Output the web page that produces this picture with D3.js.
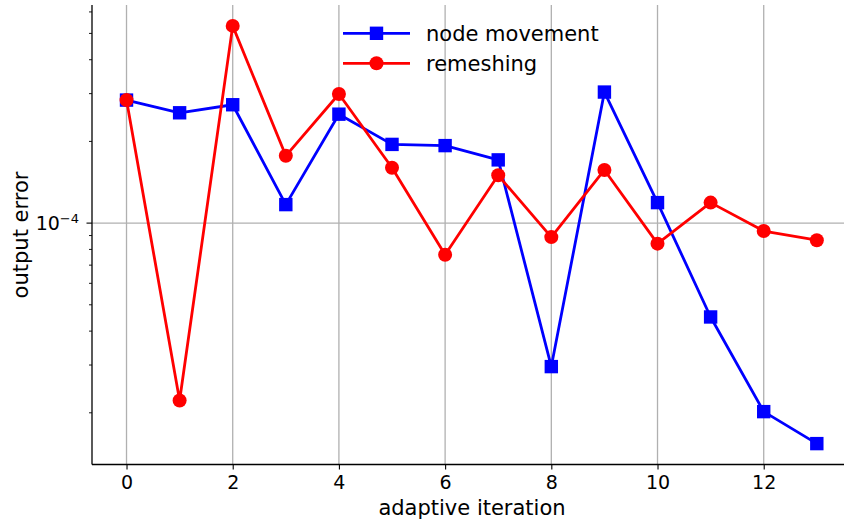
<!DOCTYPE html>
<html>
<head>
<meta charset="utf-8">
<script src="https://cdn.jsdelivr.net/npm/d3@7"></script>
<style>
	body { margin: 0; background: #fff; }
	text { font-family: "DejaVu Sans", sans-serif; fill: #000; }
</style>
</head>
<body>
<div id="chart"></div>
<script>

// adaptive iterations 0..13
var iterations = [0, 1, 2, 3, 4, 5, 6, 7, 8, 9, 10, 11, 12, 13];

var nodeMovement = [2.84e-4, 2.55e-4, 2.73e-4, 1.17e-4, 2.52e-4, 1.95e-4, 1.93e-4,
                    1.71e-4, 2.96e-5, 3.04e-4, 1.19e-4, 4.51e-5, 2.02e-5, 1.54e-5];

var remeshing    = [2.84e-4, 2.22e-5, 5.33e-4, 1.77e-4, 2.99e-4, 1.60e-4, 7.65e-5,
                    1.50e-4, 8.88e-5, 1.57e-4, 8.40e-5, 1.19e-4, 9.35e-5, 8.65e-5];

var xTicks      = [0, 2, 4, 6, 8, 10, 12];
var yMajorTicks = [1e-4];
var yMinorTicks = [2e-5, 3e-5, 4e-5, 5e-5, 6e-5, 7e-5, 8e-5, 9e-5,
                   2e-4, 3e-4, 4e-4, 5e-4, 6e-4];

var series = [
	{ name: "node movement", values: nodeMovement, color: "#0000ff", marker: "square" },
	{ name: "remeshing",     values: remeshing,    color: "#ff0000", marker: "circle" }
];

var width  = 844,
    height = 522;

var plotLeft = 92, plotTop = 5, plotBottom = 464.5;
var unit = 53.1;   // px per iteration

var svg = d3.select("#chart")
	.append("svg")
	.attr("width", width)
	.attr("height", height);

// matplotlib-like 5% margins
var x = d3.scaleLinear()
	.domain([-0.65, 13.65])
	.range([plotLeft, plotLeft + 14.3 * unit]);

var all = nodeMovement.concat(remeshing);
var lmin = Math.log10(d3.min(all)),
    lmax = Math.log10(d3.max(all)),
    pad  = (lmax - lmin) * 0.05;

var y = d3.scaleLog()
	.domain([Math.pow(10, lmin - pad), Math.pow(10, lmax + pad)])
	.range([plotBottom, plotTop]);

// grid
var grid = svg.append("g").attr("class", "grid");

grid.selectAll("line.gx")
	.data(xTicks)
	.enter().append("line")
	.attr("x1", function(d) { return x(d); })
	.attr("x2", function(d) { return x(d); })
	.attr("y1", plotTop)
	.attr("y2", plotBottom)
	.attr("stroke", "#b0b0b0")
	.attr("stroke-width", 1.3);

grid.selectAll("line.gy")
	.data(yMajorTicks)
	.enter().append("line")
	.attr("x1", plotLeft)
	.attr("x2", width)
	.attr("y1", function(d) { return y(d); })
	.attr("y2", function(d) { return y(d); })
	.attr("stroke", "#b0b0b0")
	.attr("stroke-width", 1.3);

// axes
var xAxis = d3.axisBottom(x)
	.tickValues(xTicks)
	.tickSize(5)
	.tickPadding(5.8)
	.tickFormat(d3.format("d"));

var gx = svg.append("g")
	.attr("transform", "translate(0," + plotBottom + ")")
	.call(xAxis)
	.attr("font-size", 19)
	.attr("font-family", "DejaVu Sans");

gx.select(".domain").attr("stroke-width", 1.3).attr("d", "M" + plotLeft + ",0H" + width);
gx.selectAll(".tick line").attr("stroke-width", 1.1);

var gy = svg.append("g")
	.attr("transform", "translate(" + plotLeft + ",0)");

gy.append("line")
	.attr("x1", 0).attr("x2", 0)
	.attr("y1", plotTop).attr("y2", plotBottom)
	.attr("stroke", "#000")
	.attr("stroke-width", 1.3);

gy.selectAll("line.minor")
	.data(yMinorTicks)
	.enter().append("line")
	.attr("x1", -3).attr("x2", 0)
	.attr("y1", function(d) { return y(d); })
	.attr("y2", function(d) { return y(d); })
	.attr("stroke", "#000")
	.attr("stroke-width", 0.9);

gy.selectAll("line.major")
	.data(yMajorTicks)
	.enter().append("line")
	.attr("x1", -5.5).attr("x2", 0)
	.attr("y1", function(d) { return y(d); })
	.attr("y2", function(d) { return y(d); })
	.attr("stroke", "#000")
	.attr("stroke-width", 1.1);

var ylab = gy.selectAll("text.major")
	.data(yMajorTicks)
	.enter().append("text")
	.attr("x", -13)
	.attr("y", function(d) { return y(d) + 7.3; })
	.attr("text-anchor", "end")
	.attr("font-size", 19);

ylab.append("tspan").text("10");
ylab.append("tspan")
	.attr("dy", -7)
	.attr("font-size", 13)
	.text(function(d) { return "\u2212" + Math.round(-Math.log10(d)); });

// axis labels
svg.append("text")
	.attr("x", 472)
	.attr("y", 515)
	.attr("text-anchor", "middle")
	.attr("font-size", 21)
	.text("adaptive iteration");

svg.append("text")
	.attr("transform", "translate(28,235) rotate(-90)")
	.attr("text-anchor", "middle")
	.attr("font-size", 21)
	.text("output error");

// lines and markers
var line = d3.line()
	.x(function(d, i) { return x(iterations[i]); })
	.y(function(d) { return y(d); });

function drawMarker(g, type, color, cx, cy) {
	if (type == "square") {
		g.append("rect")
			.attr("x", cx - 6.7)
			.attr("y", cy - 6.7)
			.attr("width", 13.4)
			.attr("height", 13.4)
			.attr("fill", color);
	} else {
		g.append("circle")
			.attr("cx", cx)
			.attr("cy", cy)
			.attr("r", 7)
			.attr("fill", color);
	}
}

series.forEach(function(s) {
	var g = svg.append("g");
	g.append("path")
		.datum(s.values)
		.attr("d", line)
		.attr("fill", "none")
		.attr("stroke", s.color)
		.attr("stroke-width", 2.8)
		.attr("stroke-linejoin", "round");

	s.values.forEach(function(v, i) {
		drawMarker(g, s.marker, s.color, x(iterations[i]), y(v));
	});
});

// legend, no frame
var legend = svg.append("g");

series.forEach(function(s, i) {
	var ly = 33.3 + i * 30;
	legend.append("line")
		.attr("x1", 343).attr("x2", 410)
		.attr("y1", ly).attr("y2", ly)
		.attr("stroke", s.color)
		.attr("stroke-width", 2.8);
	drawMarker(legend, s.marker, s.color, 376.5, ly);
	legend.append("text")
		.attr("x", 426)
		.attr("y", ly + 7.5)
		.attr("font-size", 21)
		.text(s.name);
});

</script>
</body>
</html>
